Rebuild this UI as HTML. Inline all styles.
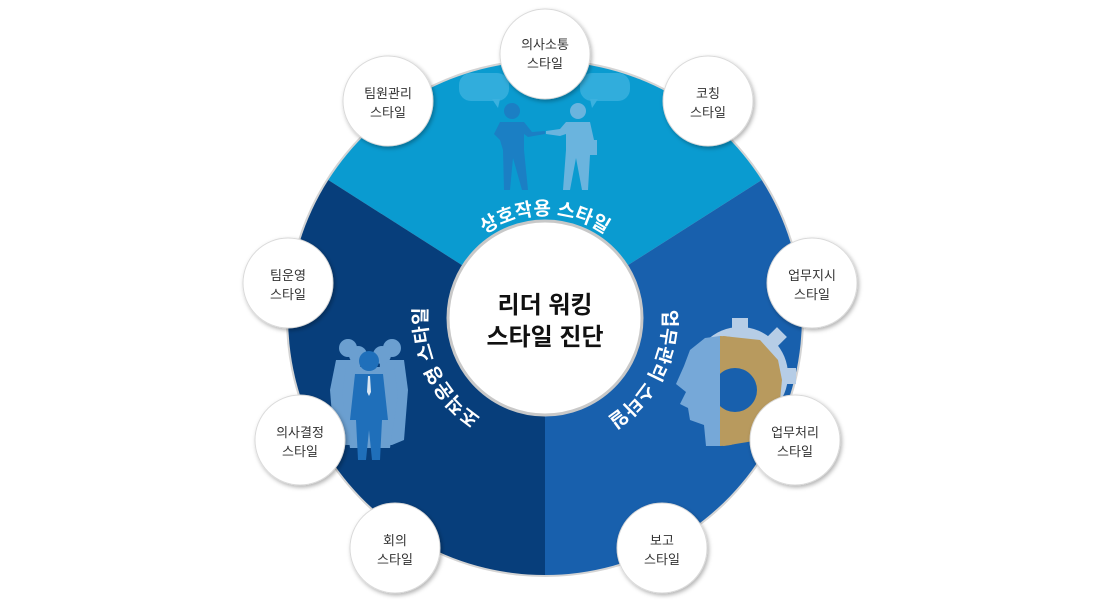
<!DOCTYPE html>
<html><head><meta charset="utf-8"><style>
html,body{margin:0;padding:0;background:#fff;}
svg{display:block;font-family:"Liberation Sans","Noto Sans CJK KR",sans-serif;}
</style></head><body>
<svg width="1100" height="600" viewBox="0 0 1100 600" xmlns="http://www.w3.org/2000/svg">
<defs>
<filter id="sh" x="-30%" y="-30%" width="160%" height="160%"><feDropShadow dx="1.5" dy="2" stdDeviation="2" flood-color="#000" flood-opacity="0.3"/></filter>
<path id="pt" d="M460.6,258.9 A103,103 0 0 1 629.4,258.9"/>
<path id="pl" d="M489.6,422.2 A118,118 0 0 1 428.8,297.5"/>
<path id="pr" d="M661.9,301.6 A118,118 0 0 1 600.4,422.2"/>
</defs>
<circle cx="545" cy="318" r="259" fill="#d4d4d4"/>
<path d="M545,318 L328.3,180 A257,257 0 0 1 761.7,180 Z" fill="#0a9bd0"/>
<path d="M545,318 L761.7,180 A257,257 0 0 1 545,575 Z" fill="#1860ad"/>
<path d="M545,318 L545,575 A257,257 0 0 1 328.3,180 Z" fill="#073e7b"/>

<!-- speech bubbles -->
<rect x="459" y="73" width="50" height="28" rx="12" fill="#3bb1df" opacity="0.8"/>
<path d="M492,99 L498,108 L500,99Z" fill="#3bb1df"/>
<rect x="580" y="73" width="50" height="28" rx="12" fill="#3bb1df" opacity="0.8"/>
<path d="M590,99 L592,108 L598,99Z" fill="#3bb1df"/>
<!-- people -->
<circle cx="512" cy="111" r="8" fill="#1b7fc4"/>
<path d="M500,122 L524,122 L532,132 L545,131 L545,134 L528,137 L524,134 L524,150 L528,190 L522,190 L513,158 L510,190 L504,190 L503,150 L500,140 L494,134Z" fill="#1b7fc4"/>
<circle cx="578" cy="111" r="8" fill="#6ab4de"/>
<path d="M566,122 L590,122 L594,140 L597,140 L597,155 L590,155 L588,190 L582,190 L576,158 L570,190 L563,190 L566,150 L566,134 L560,136 L546,134 L546,131 L560,129Z" fill="#6ab4de"/>
<!-- group of people -->
<g fill="#6b9fd0">
<circle cx="348" cy="348" r="9"/><circle cx="392" cy="348" r="9"/>
<path d="M336,360 L360,360 L364,440 L356,445 L346,445 L334,440 L330,390Z"/>
<path d="M380,360 L404,360 L408,390 L404,440 L392,445 L382,445 L378,440Z"/>
<circle cx="358" cy="355" r="9"/><circle cx="382" cy="355" r="9"/>
<path d="M346,367 L370,367 L372,448 L350,448 L342,395Z"/>
<path d="M370,367 L394,367 L398,395 L390,448 L368,448Z"/>
</g>
<circle cx="369" cy="361" r="10" fill="#1f6fba"/>
<path d="M355,374 L383,374 L388,420 L382,420 L380,460 L372,460 L369,430 L366,460 L358,460 L356,420 L350,420Z" fill="#1f6fba"/>
<path d="M368,376 L370,376 L371,392 L369,396 L367,392Z" fill="#d8e6f3"/>
<!-- head and gear -->
<circle cx="740" cy="375" r="48" fill="#b6cde6"/>
<g fill="#b6cde6"><rect x="732" y="318" width="16" height="14"/><rect x="770" y="330" width="14" height="14" transform="rotate(45 777 337)"/><rect x="782" y="368" width="14" height="16"/></g>
<path d="M720,336 A40,40 0 0 1 720,446 Z" fill="#b89a5e"/>
<path d="M723,336 L760,340 L778,360 L782,380 L778,420 L760,440 L723,446Z" fill="#b89a5e"/>
<circle cx="735" cy="390" r="22" fill="#1860ad"/>
<path d="M720,336 L720,446 L706,446 L704,425 L690,420 L688,408 L680,404 L686,392 L676,384 L684,366 L690,350 L705,338Z" fill="#76a8d8"/>

<!-- arc labels -->
<g fill="#fff" font-weight="bold" font-size="19">
<text><textPath href="#pt" startOffset="50%" text-anchor="middle">상호작용 스타일</textPath></text>
<text><textPath href="#pl" startOffset="50%" text-anchor="middle">조직운영 스타일</textPath></text>
<text><textPath href="#pr" startOffset="50%" text-anchor="middle">업무관리 스타일</textPath></text>
</g>

<!-- center -->
<circle cx="545" cy="318" r="97" fill="#fff" stroke="#c8c8c8" stroke-width="3"/>
<text x="545" y="313" text-anchor="middle" font-size="24" font-weight="bold" fill="#111">리더 워킹</text>
<text x="545" y="345" text-anchor="middle" font-size="24" font-weight="bold" fill="#111">스타일 진단</text>

<!-- small circles -->
<g font-size="13" fill="#333" text-anchor="middle">
<g filter="url(#sh)" fill="#fff" stroke="#dadada" stroke-width="1">
<circle cx="545" cy="54" r="45"/><circle cx="708" cy="101" r="45"/><circle cx="388" cy="101" r="45"/>
<circle cx="288" cy="283" r="45"/><circle cx="812" cy="283" r="45"/><circle cx="300" cy="440" r="45"/>
<circle cx="795" cy="440" r="45"/><circle cx="395" cy="548" r="45"/><circle cx="662" cy="548" r="45"/>
</g>
<text x="545" y="49">의사소통</text><text x="545" y="68">스타일</text>
<text x="708" y="98">코칭</text><text x="708" y="117">스타일</text>
<text x="388" y="98">팀원관리</text><text x="388" y="117">스타일</text>
<text x="288" y="280">팀운영</text><text x="288" y="299">스타일</text>
<text x="812" y="280">업무지시</text><text x="812" y="299">스타일</text>
<text x="300" y="437">의사결정</text><text x="300" y="456">스타일</text>
<text x="795" y="437">업무처리</text><text x="795" y="456">스타일</text>
<text x="395" y="545">회의</text><text x="395" y="564">스타일</text>
<text x="662" y="545">보고</text><text x="662" y="564">스타일</text>
</g>
</svg>
</body></html>
